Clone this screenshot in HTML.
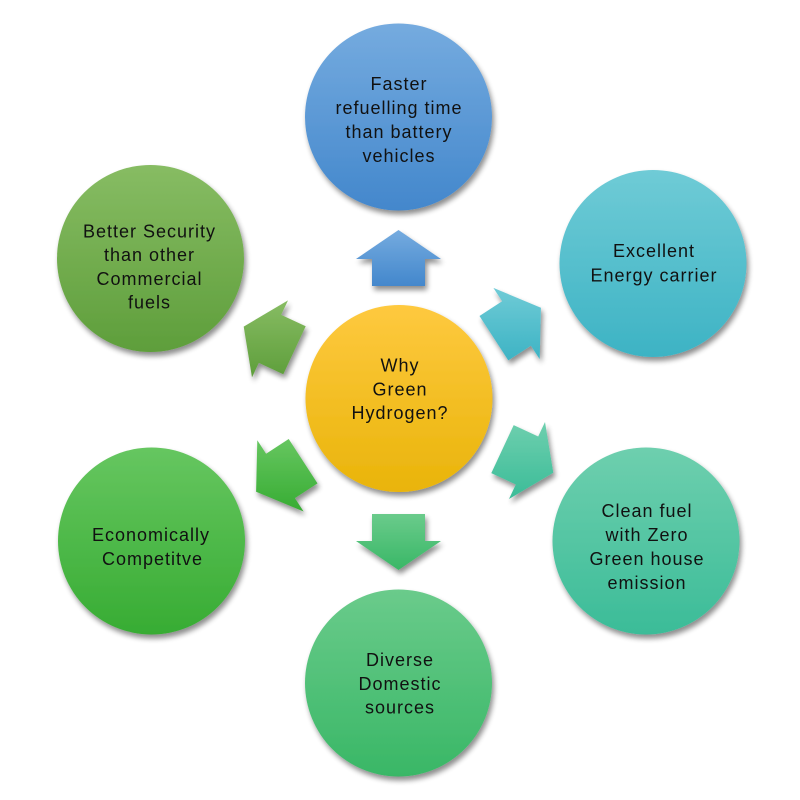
<!DOCTYPE html>
<html>
<head>
<meta charset="utf-8">
<style>
html,body{margin:0;padding:0;background:#fff;}
svg{display:block;}
text{font-family:"Liberation Sans",Arial,sans-serif;font-size:18px;letter-spacing:1px;fill:#111;text-anchor:middle;}
</style>
</head>
<body>
<svg width="800" height="800" viewBox="0 0 800 800" xmlns="http://www.w3.org/2000/svg">
<defs>
  <filter id="sh" x="-20%" y="-20%" width="150%" height="150%">
    <feGaussianBlur in="SourceAlpha" stdDeviation="2.6"/>
    <feOffset dx="2" dy="4" result="b"/>
    <feComponentTransfer><feFuncA type="linear" slope="0.45"/></feComponentTransfer>
    <feMerge><feMergeNode/><feMergeNode in="SourceGraphic"/></feMerge>
  </filter>
  <linearGradient id="gBlue" x1="0" y1="0" x2="0" y2="1"><stop offset="0" stop-color="#75abdf"/><stop offset="1" stop-color="#4387cc"/></linearGradient>
  <linearGradient id="gTeal" x1="0" y1="0" x2="0" y2="1"><stop offset="0" stop-color="#6fcbd6"/><stop offset="1" stop-color="#3db3c4"/></linearGradient>
  <linearGradient id="gMint" x1="0" y1="0" x2="0" y2="1"><stop offset="0" stop-color="#6ecfae"/><stop offset="1" stop-color="#3bbc98"/></linearGradient>
  <linearGradient id="gGreen" x1="0" y1="0" x2="0" y2="1"><stop offset="0" stop-color="#6acb8b"/><stop offset="1" stop-color="#39b766"/></linearGradient>
  <linearGradient id="gLeaf" x1="0" y1="0" x2="0" y2="1"><stop offset="0" stop-color="#66c660"/><stop offset="1" stop-color="#37ac33"/></linearGradient>
  <linearGradient id="gOlive" x1="0" y1="0" x2="0" y2="1"><stop offset="0" stop-color="#87bc63"/><stop offset="1" stop-color="#5e9e3b"/></linearGradient>
  <linearGradient id="gYellow" x1="0" y1="0" x2="0" y2="1"><stop offset="0" stop-color="#fec93f"/><stop offset="1" stop-color="#e9b40a"/></linearGradient>
</defs>

<g filter="url(#sh)">
  <circle cx="398.5" cy="117" r="93.5" fill="url(#gBlue)"/>
  <circle cx="653" cy="263.5" r="93.5" fill="url(#gTeal)"/>
  <circle cx="646" cy="541" r="93.5" fill="url(#gMint)"/>
  <circle cx="398.5" cy="683" r="93.5" fill="url(#gGreen)"/>
  <circle cx="151.5" cy="541" r="93.5" fill="url(#gLeaf)"/>
  <circle cx="150.5" cy="258.5" r="93.5" fill="url(#gOlive)"/>
  <circle cx="399" cy="398.5" r="93.5" fill="url(#gYellow)"/>

  <polygon points="372,286 372,259 356,259 398.5,230 441,259 425,259 425,286" fill="url(#gBlue)"/>
  <polygon points="425,514 425,541 441,541 398.5,570 356,541 372,541 372,514" fill="url(#gGreen)"/>
  <polygon points="479.5,316 502.1,301.3 493.4,287.9 540.9,307.7 539.7,359.1 530.9,345.7 508.3,360.4" fill="url(#gTeal)"/>
  <polygon points="317.5,483.4 294.9,498.1 303.6,511.5 256.1,491.7 257.3,440.3 266.1,453.7 288.7,439" fill="url(#gLeaf)"/>
  <polygon points="513.7,425.1 538.2,436.5 545,422 553.3,472.8 509,499 515.8,484.5 491.3,473.1" fill="url(#gMint)"/>
  <polygon points="283.3,374.3 258.8,362.9 252,377.4 243.7,326.6 288,300.4 281.2,314.9 305.7,326.3" fill="url(#gOlive)"/>
</g>

<text x="399" y="90">Faster</text>
<text x="399" y="114">refuelling time</text>
<text x="399" y="138">than battery</text>
<text x="399" y="162">vehicles</text>

<text x="654" y="257">Excellent</text>
<text x="654" y="281.5">Energy carrier</text>

<text x="647" y="517">Clean fuel</text>
<text x="647" y="541">with Zero</text>
<text x="647" y="565">Green house</text>
<text x="647" y="589">emission</text>

<text x="400" y="666">Diverse</text>
<text x="400" y="690">Domestic</text>
<text x="400" y="713.5">sources</text>

<text x="151" y="541">Economically</text>
<text x="152.5" y="565">Competitve</text>

<text x="149.5" y="237.5">Better Security</text>
<text x="149.5" y="261">than other</text>
<text x="149.5" y="285">Commercial</text>
<text x="149.5" y="308.5">fuels</text>

<text x="400" y="371.5">Why</text>
<text x="400" y="395.5">Green</text>
<text x="400" y="419">Hydrogen?</text>
</svg>
</body>
</html>
